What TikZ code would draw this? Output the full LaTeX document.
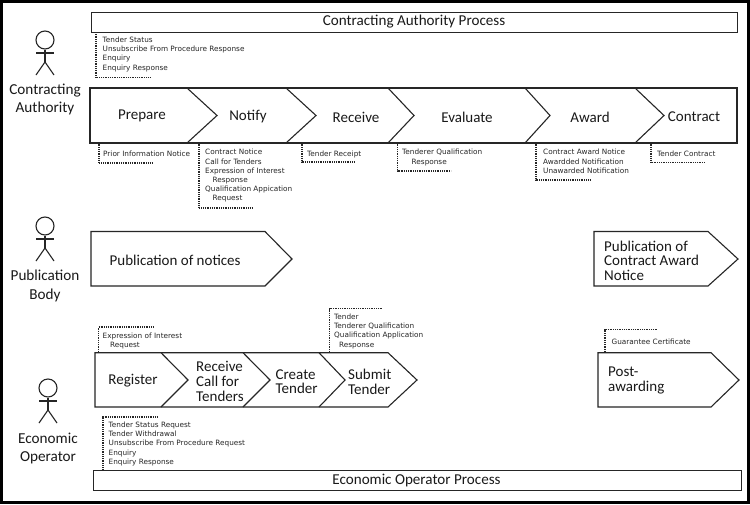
\documentclass[tikz,border=0pt]{standalone}
\usepackage{fontspec}
\setmainfont{Carlito}
\newfontfamily\notefont{DejaVu Sans}
\tikzset{
  x=1pt,y=-1pt,
  shapeline/.style={draw=black!85,line width=1.1pt,line join=miter,fill=white},
  stroke/.style={draw=black!85,line width=1.1pt},
  title/.style={inner sep=0pt,yshift=-1pt,font=\fontsize{15.1}{17}\selectfont,text=black!90},
  big/.style={inner sep=0pt,yshift=-1.2pt,align=center,font=\fontsize{15}{14.7}\selectfont,text=black!90},
  bigl/.style={big,align=left},
  actorlabel/.style={inner sep=0pt,yshift=-1.4pt,align=center,font=\fontsize{15.2}{18.5}\selectfont,text=black!90},
  note/.style={inner sep=0pt,yshift=-1pt,anchor=north west,align=left,text=black!85,
    font=\notefont\fontsize{7.3}{9.2}\selectfont,execute at begin node={\rule{0pt}{7pt}}},
  dots/.style={draw=black!85,line width=1.1pt,dash pattern=on 1pt off 0.8pt},
}
\newcommand{\actor}[3]{% name, cx, head cy
  \node[circle,draw=black!85,line width=1.1pt,minimum size=18pt,inner sep=0pt] (#1) at (#2,#3) {};
  \coordinate (#1c) at (#2,#3+22);
  \draw[stroke] (#1.south) -- (#1c);
  \draw[stroke] (#2-9,#3+13) -- (#2+9,#3+13);
  \draw[stroke] (#2-9,#3+35) -- (#1c) -- (#2+9,#3+35);
}
\begin{document}
\begin{tikzpicture}
\useasboundingbox (0,0) rectangle (750,504);
\fill[white] (0,0) rectangle (750,504);
\draw[black,line width=3pt] (1.5,1.5) rectangle (748,502);

% process bars
\node[draw=black!85,line width=1.1pt,fill=white,minimum width=645.5pt,minimum height=20pt,inner sep=0pt,anchor=north west] (cap) at (91,11.5) {};
\node[title] (capt) at (414,21) {Contracting Authority Process};
\node[draw=black!85,line width=1.1pt,fill=white,minimum width=648pt,minimum height=20pt,inner sep=0pt,anchor=north west] (eop) at (93,470) {};
\node[title] (eopt) at (416.5,480) {Economic Operator Process};

% actors
\actor{a1}{45}{40}
\actor{a2}{45}{226}
\actor{a3}{48}{388}
\node[actorlabel] (l1) at (45,98) {Contracting\\Authority};
\node[actorlabel] (l2) at (45,284.5) {Publication\\Body};
\node[actorlabel] (l3) at (48,447) {Economic\\Operator};

% contracting authority row
\draw[shapeline] (90,88) rectangle (737,143);
\foreach \n/\t in {187/217,286/316,388/414,525/550,635/664}
  \draw[stroke] (\n,88) -- (\t,115.5) -- (\n,143);
\node[big] (p1) at (142,114.5) {Prepare};
\node[big] (p2) at (248,115) {Notify};
\node[big] (p3) at (356,116) {Receive};
\node[big] (p4) at (467,116) {Evaluate};
\node[big] (p5) at (590,116) {Award};
\node[big] (p6) at (694,115.5) {Contract};

% publication body row
\draw[shapeline] (91,231.5) -- (265,231.5) -- (292,259) -- (265,286) -- (91,286) -- cycle;
\node[bigl,anchor=west] (b1) at (109.5,259) {Publication of notices};
\draw[shapeline] (594,231.5) -- (708,231.5) -- (738,259) -- (708,286) -- (594,286) -- cycle;
\node[bigl,anchor=west] (b2) at (604,259.5) {Publication of\\Contract Award\\Notice};

% economic operator row
\draw[shapeline] (95,352.7) -- (388,352.7) -- (417,380) -- (388,407) -- (95,407) -- cycle;
\foreach \n/\t in {161/188,243/270,319/345}
  \draw[stroke] (\n,352.7) -- (\t,380) -- (\n,407);
\node[big] (e1) at (133,379.5) {Register};
\node[bigl,anchor=west] (e2) at (196,380) {Receive\\Call for\\Tenders};
\node[bigl,anchor=west] (e3) at (275.5,380.5) {Create\\Tender};
\node[bigl,anchor=west] (e4) at (348,380.5) {Submit\\Tender};
\draw[shapeline] (598,352.7) -- (711,352.7) -- (739,380) -- (711,407) -- (598,407) -- cycle;
\node[bigl,anchor=west] (e5) at (608,379.5) {Post-\\awarding};

% annotations
\draw[dots] (96,32) -- (96,77.5) -- (150,77.5);
\node[note] (n1) at (102.5,35.7) {Tender Status\\Unsubscribe From Procedure Response\\Enquiry\\Enquiry Response};
\draw[dots] (99,143.5) -- (99,163) -- (153,163);
\node[note] (n2) at (103,148.2) {Prior Information Notice};
\draw[dots] (199,143.5) -- (199,208) -- (252,208);
\node[note] (n3) at (205,148.2) {Contract Notice\\Call for Tenders\\Expression of Interest\\\hspace*{7.5pt}Response\\Qualification Appication\\\hspace*{7.5pt}Request};
\draw[dots] (302,143.5) -- (302,162) -- (355,162);
\node[note] (n4) at (307,148.2) {Tender Receipt};
\draw[dots] (397.5,143.5) -- (397.5,171) -- (451,171);
\node[note] (n5) at (402,148.2) {Tenderer Qualification\\\hspace*{9.5pt}Response};
\draw[dots] (536,143.5) -- (536,180) -- (590,180);
\node[note] (n6) at (543,148.2) {Contract Award Notice\\Awardded Notification\\Unawarded Notification};
\draw[dots] (651,143.5) -- (651,162.5) -- (705,162.5);
\node[note] (n7) at (657,148.2) {Tender Contract};
\draw[dots] (98.5,352) -- (98.5,327) -- (153,327);
\node[note] (n8) at (102.5,331.7) {Expression of Interest\\\hspace*{7.5pt}Request};
\draw[dots] (329.5,352) -- (329.5,308.5) -- (383,308.5);
\node[note] (n9) at (334,312.7) {Tender\\Tenderer Qualification\\Qualification Application\\\hspace*{5pt}Response};
\draw[dots] (605,352) -- (605,329.5) -- (658,329.5);
\node[note] (n10) at (611.5,336.7) {Guarantee Certificate};
\draw[dots] (103,469.5) -- (103,417) -- (157,417);
\node[note] (n11) at (108.5,420.7) {Tender Status Request\\Tender Withdrawal\\Unsubscribe From Procedure Request\\Enquiry\\Enquiry Response};
\end{tikzpicture}
\end{document}
